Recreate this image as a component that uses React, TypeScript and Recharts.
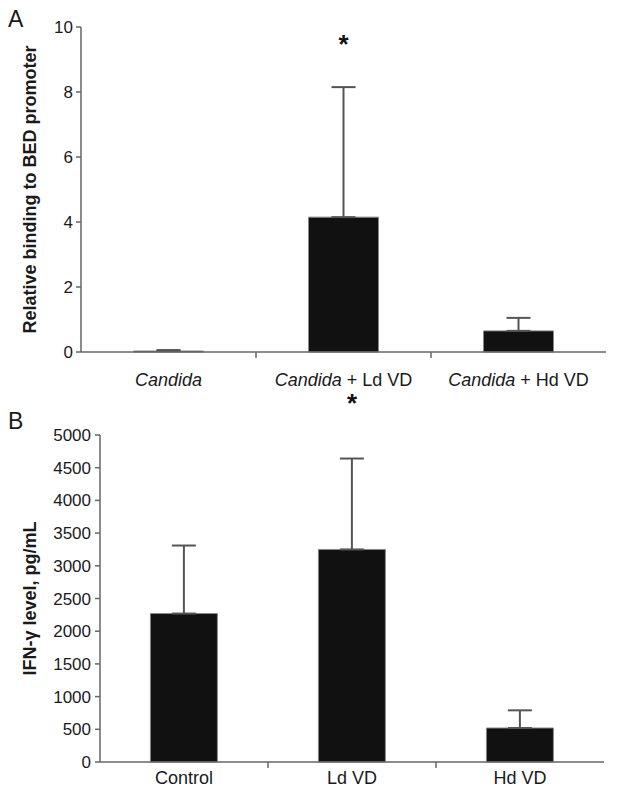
import React from 'react';
import { BarChart, Bar, XAxis, YAxis, ErrorBar, ReferenceDot } from 'recharts';

// Panel A: relative binding to BED promoter
const bindingCategories = ['Candida', 'Candida + Ld VD', 'Candida + Hd VD'];
const bindingMeans = [0.03, 4.15, 0.65];
const bindingErrors = [0.03, 4.0, 0.4];
const bindingTicks = [0, 2, 4, 6, 8, 10];
const bindingStar = { category: 'Candida + Ld VD', y: 9.48 };

// Panel B: IFN-gamma level
const ifnCategories = ['Control', 'Ld VD', 'Hd VD'];
const ifnMeans = [2270, 3250, 520];
const ifnErrors = [1040, 1390, 270];
const ifnTicks = [0, 500, 1000, 1500, 2000, 2500, 3000, 3500, 4000, 4500, 5000];
const ifnStar = { category: 'Ld VD', y: 5500 };

const bindingData = bindingCategories.map((name, i) => ({
  name,
  value: bindingMeans[i],
  err: [0, bindingErrors[i]],
}));

const ifnData = ifnCategories.map((name, i) => ({
  name,
  value: ifnMeans[i],
  err: [0, ifnErrors[i]],
}));

const FONT = '"Liberation Sans", Arial, sans-serif';
const AXIS = '#666';
const TEXT = '#1a1a1a';

// category label plus a small separator tick at the right edge of the band
const CategoryTick = (props: any) => {
  const { x, y, payload, index, visibleTicksCount, margin, italic } = props;
  const label: string = payload.value;
  const half = payload.offset || 0;
  const axisY = y - margin;
  const rest = italic ? label.replace(italic, '') : label;
  return (
    <g>
      <text x={x} y={y} dy="0.71em" textAnchor="middle" fontSize={18} fill={TEXT} fontFamily={FONT}>
        {italic && <tspan fontStyle="italic">{italic}</tspan>}
        {rest && <tspan>{rest}</tspan>}
      </text>
      {index < visibleTicksCount - 1 && (
        <line x1={x + half} x2={x + half} y1={axisY} y2={axisY + 6} stroke={AXIS} strokeWidth={1.5} />
      )}
    </g>
  );
};

const starLabel = { value: '*', position: 'center' as const, fontSize: 26, fontWeight: 'bold', fill: '#111' };

export default function App() {
  return (
    <div style={{ position: 'absolute', left: 0, top: 0, width: 628, height: 794, background: '#fff', fontFamily: FONT }}>
      <div style={{ position: 'absolute', left: 8, top: 6, fontSize: 23, color: TEXT }}>A</div>
      <div style={{ position: 'absolute', left: 8, top: 408, fontSize: 23, color: TEXT }}>B</div>

      <div style={{ position: 'absolute', left: 0, top: 0 }}>
        <BarChart width={628} height={390} data={bindingData} margin={{ top: 27, right: 22, left: 0, bottom: 0 }} barCategoryGap="30%">
          <XAxis
            dataKey="name"
            height={38}
            stroke={AXIS}
            strokeWidth={1.5}
            tickLine={false}
            tickSize={0}
            tickMargin={21}
            interval={0}
            tick={<CategoryTick margin={21} italic="Candida" />}
          />
          <YAxis
            width={81}
            domain={[0, 10]}
            ticks={bindingTicks}
            stroke={AXIS}
            strokeWidth={1.5}
            tickSize={5}
            tickMargin={3}
            tick={{ fill: TEXT, fontSize: 17, fontFamily: FONT }}
            label={{
              value: 'Relative binding to BED promoter',
              angle: -90,
              position: 'insideLeft',
              offset: 30,
              style: { textAnchor: 'middle', fontWeight: 'bold', fontSize: 18, fill: TEXT, fontFamily: FONT },
            }}
          />
          <Bar dataKey="value" fill="#111" stroke="#888" strokeWidth={1} isAnimationActive={false}>
            <ErrorBar dataKey="err" width={12} stroke="#555" strokeWidth={2} direction="y" />
          </Bar>
          <ReferenceDot x={bindingStar.category} y={bindingStar.y} r={0} ifOverflow="visible" label={starLabel} />
        </BarChart>
      </div>

      <div style={{ position: 'absolute', left: 0, top: 370 }}>
        <BarChart width={628} height={424} data={ifnData} margin={{ top: 65, right: 24, left: 0, bottom: 0 }} barCategoryGap="30%">
          <XAxis
            dataKey="name"
            height={32}
            stroke={AXIS}
            strokeWidth={1.5}
            tickLine={false}
            tickSize={0}
            tickMargin={9}
            interval={0}
            tick={<CategoryTick margin={9} />}
          />
          <YAxis
            width={100}
            domain={[0, 5000]}
            ticks={ifnTicks}
            stroke={AXIS}
            strokeWidth={1.5}
            tickSize={5}
            tickMargin={4}
            tick={{ fill: TEXT, fontSize: 17, fontFamily: FONT }}
            label={{
              value: 'IFN-γ level, pg/mL',
              angle: -90,
              position: 'insideLeft',
              offset: 30,
              style: { textAnchor: 'middle', fontWeight: 'bold', fontSize: 18, fill: TEXT, fontFamily: FONT },
            }}
          />
          <Bar dataKey="value" fill="#111" stroke="#888" strokeWidth={1} isAnimationActive={false}>
            <ErrorBar dataKey="err" width={12} stroke="#555" strokeWidth={2} direction="y" />
          </Bar>
          <ReferenceDot x={ifnStar.category} y={ifnStar.y} r={0} ifOverflow="visible" label={starLabel} />
        </BarChart>
      </div>
    </div>
  );
}
